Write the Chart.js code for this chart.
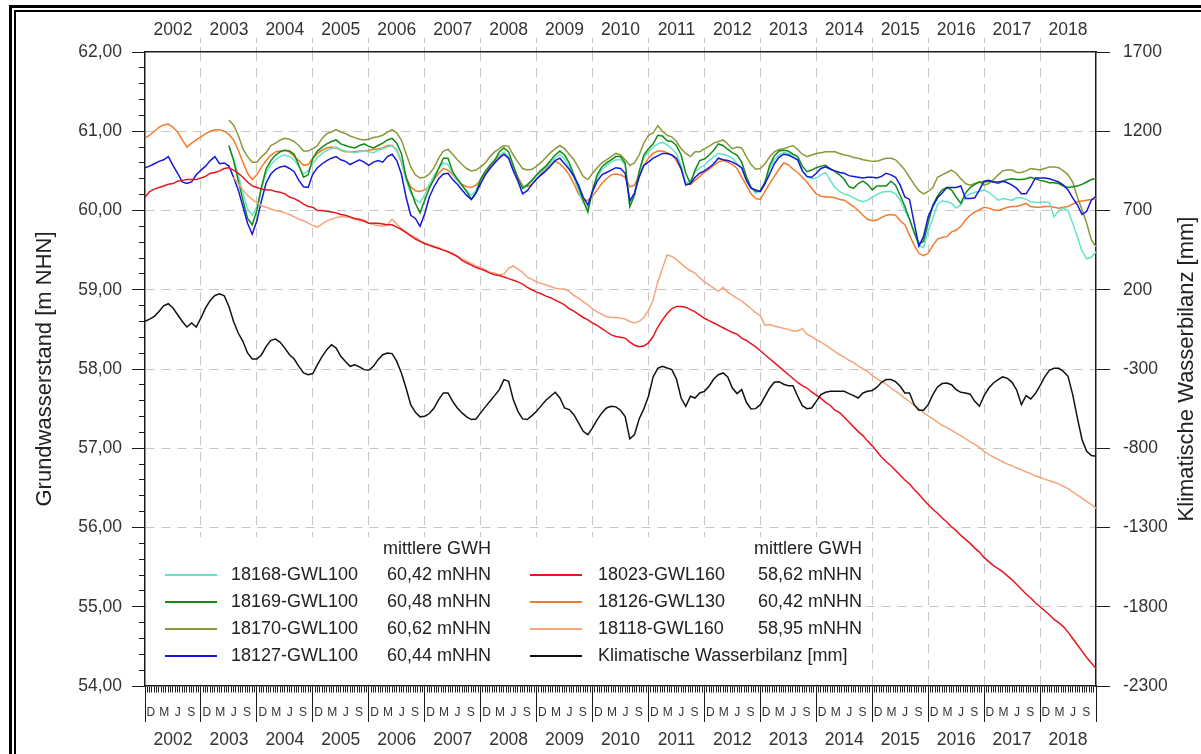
<!DOCTYPE html>
<html>
<head>
<meta charset="utf-8">
<script src="https://cdn.jsdelivr.net/npm/chart.js@4.4.1/dist/chart.umd.min.js"></script>
<style>
  html, body { margin: 0; padding: 0; background: #fff; }
  #wrap { position: relative; width: 1201px; height: 754px; overflow: hidden; background: #fff; }
  #myChart { position: absolute; left: 0; top: 0; }
  .frame { position: absolute; border-style: solid; border-color: #000; pointer-events: none; }
  #frameOuter { left: 9px; top: 5px; width: 1400px; height: 1000px; border-width: 3px; }
  #frameInner { left: 14px; top: 10px; width: 1400px; height: 1000px; border-width: 2px; }
</style>
</head>
<body>
<div id="wrap">
  <canvas id="myChart" width="1201" height="754"></canvas>
  <div class="frame" id="frameOuter"></div>
  <div class="frame" id="frameInner"></div>
</div>
<script>
// hydrological years (Nov - Oct), one value per month starting Nov 2001
const hydroYears = ['2002', '2003', '2004', '2005', '2006', '2007', '2008', '2009', '2010',
                    '2011', '2012', '2013', '2014', '2015', '2016', '2017', '2018'];
const monthLetters = ['D', 'M', 'J', 'S'];
const rightTickValues = [1700, 1200, 700, 200, -300, -800, -1300, -1800, -2300];
const legendHeader = 'mittlere GWH';
const leftTitle = 'Grundwasserstand [m NHN]';
const rightTitle = 'Klimatische Wasserbilanz [mm]';
const _ = null;

const gwl18168 = [
  _, _, _, _, _, _, _, _, _, _, _, _,
  _, _, _, _, _, _, 60.80, 60.66, 60.45, 60.22, 60.02, 59.94,
  60.05, 60.28, 60.48, 60.58, 60.64, 60.68, 60.70, 60.68, 60.64, 60.55, 60.46, 60.50,
  60.60, 60.67, 60.72, 60.76, 60.78, 60.80, 60.77, 60.75, 60.74, 60.73, 60.74, 60.75,
  60.74, 60.73, 60.76, 60.78, 60.80, 60.82, 60.77, 60.62, 60.38, 60.22, 60.14, 60.10,
  60.20, 60.33, 60.44, 60.53, 60.60, 60.58, 60.47, 60.38, 60.31, 60.25, 60.19, 60.25,
  60.40, 60.50, 60.57, 60.64, 60.70, 60.74, 60.68, 60.52, 60.40, 60.30, 60.33, 60.38,
  60.44, 60.49, 60.54, 60.60, 60.66, 60.71, 60.65, 60.55, 60.42, 60.25, 60.10, 60.03,
  60.22, 60.42, 60.51, 60.57, 60.61, 60.64, 60.64, 60.58, 60.05, 60.18, 60.47, 60.67,
  60.74, 60.80, 60.84, 60.86, 60.83, 60.78, 60.72, 60.57, 60.34, 60.38, 60.49, 60.54,
  60.57, 60.63, 60.68, 60.72, 60.71, 60.69, 60.66, 60.59, 60.53, 60.40, 60.30, 60.22,
  60.24, 60.34, 60.53, 60.64, 60.70, 60.73, 60.72, 60.68, 60.64, 60.51, 60.42, 60.40,
  60.41, 60.45, 60.48, 60.38, 60.29, 60.24, 60.21, 60.19, 60.16, 60.13, 60.11, 60.13,
  60.17, 60.20, 60.23, 60.24, 60.24, 60.21, 60.13, 60.00, 59.89, 59.73, 59.56, 59.53,
  59.75, 59.90, 60.08, 60.12, 60.11, 60.09, 60.03, 60.07, 60.17, 60.21, 60.23, 60.24,
  60.26, 60.23, 60.18, 60.13, 60.15, 60.14, 60.13, 60.16, 60.16, 60.14, 60.11, 60.10,
  60.10, 60.11, 60.10, 59.92, 60.00, 60.03, 60.00, 59.84, 59.67, 59.49, 59.39, 59.41,
  59.48
];

const gwl18169 = [
  _, _, _, _, _, _, _, _, _, _, _, _,
  _, _, _, _, _, _, 60.82, 60.63, 60.38, 60.13, 59.90, 59.82,
  60.00, 60.30, 60.53, 60.63, 60.70, 60.74, 60.76, 60.75, 60.71, 60.57, 60.42, 60.45,
  60.66, 60.75, 60.80, 60.84, 60.87, 60.89, 60.84, 60.82, 60.80, 60.79, 60.82, 60.84,
  60.81, 60.79, 60.82, 60.85, 60.89, 60.91, 60.85, 60.72, 60.42, 60.26, 60.09, 59.97,
  60.13, 60.28, 60.40, 60.53, 60.66, 60.66, 60.49, 60.40, 60.32, 60.24, 60.14, 60.22,
  60.40, 60.49, 60.57, 60.63, 60.74, 60.79, 60.74, 60.57, 60.40, 60.28, 60.32, 60.38,
  60.45, 60.51, 60.56, 60.63, 60.70, 60.75, 60.70, 60.60, 60.45, 60.30, 60.13, 59.98,
  60.26, 60.45, 60.55, 60.60, 60.64, 60.68, 60.68, 60.60, 60.05, 60.20, 60.49, 60.70,
  60.78, 60.84, 60.95, 60.94, 60.88, 60.87, 60.82, 60.70, 60.47, 60.34, 60.51, 60.63,
  60.65, 60.70, 60.76, 60.84, 60.82, 60.77, 60.73, 60.70, 60.61, 60.43, 60.29, 60.24,
  60.25, 60.36, 60.57, 60.69, 60.75, 60.76, 60.75, 60.71, 60.68, 60.56, 60.49, 60.51,
  60.54, 60.56, 60.57, 60.53, 60.49, 60.45, 60.39, 60.30, 60.28, 60.34, 60.37, 60.33,
  60.26, 60.31, 60.31, 60.31, 60.37, 60.32, 60.19, 60.05, 59.89, 59.72, 59.58, 59.61,
  59.84, 60.07, 60.18, 60.26, 60.29, 60.26, 60.17, 60.09, 60.22, 60.29, 60.33, 60.36,
  60.36, 60.37, 60.36, 60.34, 60.37, 60.39, 60.40, 60.39, 60.39, 60.40, 60.42, 60.40,
  60.38, 60.37, 60.35, 60.35, 60.34, 60.31, 60.29, 60.30, 60.31, 60.33, 60.36, 60.39,
  60.40
];

const gwl18170 = [
  _, _, _, _, _, _, _, _, _, _, _, _,
  _, _, _, _, _, _, 61.14, 61.08, 60.95, 60.78, 60.68, 60.61,
  60.61, 60.68, 60.73, 60.82, 60.85, 60.89, 60.91, 60.90, 60.87, 60.82, 60.75, 60.75,
  60.78, 60.82, 60.91, 60.97, 60.99, 61.02, 60.99, 60.97, 60.94, 60.92, 60.90, 60.89,
  60.90, 60.92, 60.93, 60.95, 60.99, 61.02, 60.98, 60.89, 60.72, 60.55, 60.45, 60.41,
  60.42, 60.46, 60.54, 60.66, 60.75, 60.77, 60.71, 60.64, 60.58, 60.53, 60.50, 60.51,
  60.55, 60.60, 60.68, 60.74, 60.78, 60.82, 60.81, 60.70, 60.61, 60.53, 60.51, 60.52,
  60.56, 60.61, 60.67, 60.73, 60.78, 60.82, 60.78, 60.71, 60.64, 60.54, 60.43, 60.39,
  60.47, 60.54, 60.60, 60.64, 60.68, 60.72, 60.70, 60.64, 60.57, 60.60, 60.70, 60.85,
  60.95, 60.98, 61.07, 61.00, 60.95, 60.93, 60.87, 60.78, 60.72, 60.68, 60.74, 60.74,
  60.78, 60.81, 60.85, 60.87, 60.89, 60.84, 60.78, 60.80, 60.79, 60.68, 60.58, 60.52,
  60.53, 60.59, 60.68, 60.74, 60.77, 60.78, 60.80, 60.82, 60.77, 60.71, 60.68, 60.70,
  60.72, 60.73, 60.74, 60.74, 60.74, 60.72, 60.70, 60.69, 60.67, 60.66, 60.64, 60.63,
  60.62, 60.62, 60.64, 60.66, 60.66, 60.64, 60.58, 60.51, 60.42, 60.33, 60.25, 60.21,
  60.24, 60.29, 60.42, 60.45, 60.48, 60.51, 60.47, 60.40, 60.34, 60.32, 60.34, 60.36,
  60.32, 60.34, 60.39, 60.45, 60.50, 60.51, 60.51, 60.48, 60.48, 60.50, 60.53, 60.52,
  60.51, 60.53, 60.55, 60.55, 60.54, 60.50, 60.45, 60.36, 60.17, 60.01, 59.84, 59.63,
  59.54
];

const gwl18127 = [
  60.54, 60.56, 60.59, 60.62, 60.64, 60.68, 60.57, 60.47, 60.36, 60.34, 60.36, 60.45,
  60.51, 60.56, 60.63, 60.68, 60.59, 60.60, 60.56, 60.42, 60.26, 60.05, 59.84, 59.70,
  59.87, 60.13, 60.35, 60.46, 60.52, 60.55, 60.56, 60.53, 60.49, 60.38, 60.30, 60.29,
  60.46, 60.54, 60.59, 60.63, 60.66, 60.68, 60.64, 60.62, 60.58, 60.61, 60.64, 60.61,
  60.57, 60.61, 60.63, 60.61, 60.68, 60.71, 60.63, 60.46, 60.17, 59.94, 59.90, 59.80,
  59.96, 60.17, 60.30, 60.40, 60.46, 60.47, 60.39, 60.33, 60.26, 60.19, 60.14, 60.22,
  60.34, 60.45, 60.53, 60.60, 60.66, 60.71, 60.66, 60.50, 60.37, 60.21, 60.25, 60.33,
  60.40, 60.45, 60.50, 60.56, 60.63, 60.66, 60.59, 60.52, 60.43, 60.32, 60.17, 60.07,
  60.24, 60.37, 60.45, 60.48, 60.51, 60.54, 60.53, 60.47, 60.12, 60.22, 60.42, 60.57,
  60.61, 60.66, 60.69, 60.72, 60.72, 60.70, 60.66, 60.53, 60.32, 60.34, 60.42, 60.47,
  60.50, 60.54, 60.59, 60.66, 60.64, 60.63, 60.61, 60.58, 60.54, 60.38, 60.28, 60.26,
  60.24, 60.34, 60.46, 60.59, 60.67, 60.71, 60.70, 60.67, 60.64, 60.50, 60.43, 60.42,
  60.47, 60.53, 60.55, 60.52, 60.50, 60.48, 60.47, 60.44, 60.43, 60.42, 60.41, 60.42,
  60.42, 60.41, 60.43, 60.47, 60.45, 60.42, 60.32, 60.17, 60.14, 59.84, 59.55, 59.67,
  59.92, 60.05, 60.16, 60.22, 60.29, 60.29, 60.29, 60.31, 60.15, 60.15, 60.16, 60.26,
  60.37, 60.38, 60.36, 60.36, 60.37, 60.35, 60.32, 60.28, 60.21, 60.21, 60.30, 60.41,
  60.41, 60.41, 60.40, 60.38, 60.36, 60.32, 60.26, 60.16, 60.07, 59.95, 59.99, 60.13,
  60.18
];

const gwl18023 = [
  60.17, 60.24, 60.27, 60.29, 60.31, 60.33, 60.34, 60.37, 60.38, 60.39, 60.39, 60.39,
  60.41, 60.43, 60.47, 60.48, 60.50, 60.53, 60.54, 60.51, 60.47, 60.42, 60.36, 60.31,
  60.29, 60.27, 60.26, 60.26, 60.24, 60.23, 60.21, 60.17, 60.15, 60.12, 60.08, 60.05,
  60.04, 60.00, 60.00, 59.99, 59.98, 59.97, 59.95, 59.94, 59.92, 59.90, 59.89, 59.87,
  59.84, 59.84, 59.84, 59.83, 59.82, 59.82, 59.79, 59.76, 59.72, 59.68, 59.64, 59.61,
  59.58, 59.56, 59.54, 59.52, 59.50, 59.48, 59.45, 59.42, 59.37, 59.34, 59.31, 59.28,
  59.26, 59.24, 59.21, 59.19, 59.18, 59.16, 59.14, 59.12, 59.10, 59.07, 59.03, 59.00,
  58.97, 58.95, 58.92, 58.90, 58.87, 58.84, 58.81, 58.76, 58.73, 58.69, 58.65, 58.62,
  58.58, 58.55, 58.51, 58.47, 58.43, 58.41, 58.40, 58.39, 58.34, 58.30, 58.28, 58.29,
  58.33, 58.41, 58.53, 58.62, 58.70, 58.76, 58.79, 58.79, 58.78, 58.75, 58.72, 58.68,
  58.64, 58.61, 58.58, 58.55, 58.52, 58.49, 58.46, 58.44, 58.39, 58.36, 58.32, 58.28,
  58.23, 58.18, 58.13, 58.08, 58.03, 57.98, 57.93, 57.88, 57.83, 57.79, 57.76, 57.71,
  57.67, 57.63, 57.58, 57.54, 57.48, 57.45, 57.39, 57.33, 57.27, 57.21, 57.16, 57.09,
  57.03, 56.96, 56.89, 56.83, 56.78, 56.72, 56.66, 56.60, 56.55, 56.48, 56.42, 56.35,
  56.29, 56.23, 56.18, 56.12, 56.07, 56.01, 55.96, 55.90, 55.85, 55.80, 55.74, 55.69,
  55.62, 55.57, 55.52, 55.48, 55.44, 55.39, 55.34, 55.28, 55.22, 55.16, 55.11, 55.05,
  55.00, 54.95, 54.90, 54.84, 54.80, 54.75, 54.68, 54.60, 54.52, 54.44, 54.36, 54.29,
  54.22
];

const gwl18126 = [
  60.91, 60.95, 61.00, 61.05, 61.08, 61.09, 61.05, 60.99, 60.89, 60.80, 60.85, 60.89,
  60.93, 60.97, 61.00, 61.02, 61.02, 61.00, 60.96, 60.89, 60.76, 60.61, 60.47, 60.39,
  60.45, 60.55, 60.63, 60.70, 60.74, 60.75, 60.76, 60.74, 60.68, 60.63, 60.57, 60.58,
  60.66, 60.72, 60.76, 60.79, 60.80, 60.79, 60.76, 60.74, 60.74, 60.74, 60.75, 60.75,
  60.76, 60.77, 60.78, 60.79, 60.82, 60.82, 60.76, 60.61, 60.42, 60.30, 60.25, 60.24,
  60.26, 60.30, 60.39, 60.47, 60.53, 60.51, 60.45, 60.38, 60.33, 60.30, 60.29, 60.32,
  60.38, 60.46, 60.55, 60.63, 60.68, 60.71, 60.66, 60.55, 60.42, 60.32, 60.30, 60.33,
  60.39, 60.47, 60.53, 60.58, 60.62, 60.59, 60.53, 60.45, 60.34, 60.21, 60.13, 60.13,
  60.18, 60.26, 60.34, 60.40, 60.45, 60.46, 60.45, 60.42, 60.30, 60.32, 60.45, 60.56,
  60.66, 60.72, 60.75, 60.75, 60.73, 60.70, 60.63, 60.52, 60.34, 60.33, 60.38, 60.43,
  60.48, 60.52, 60.57, 60.61, 60.63, 60.61, 60.58, 60.53, 60.42, 60.32, 60.21, 60.15,
  60.14, 60.24, 60.34, 60.43, 60.52, 60.60, 60.58, 60.52, 60.48, 60.42, 60.36, 60.28,
  60.21, 60.18, 60.17, 60.17, 60.16, 60.14, 60.13, 60.09, 60.05, 60.00, 59.94, 59.89,
  59.87, 59.88, 59.91, 59.94, 59.95, 59.94, 59.87, 59.82, 59.69, 59.56, 59.46, 59.43,
  59.46, 59.56, 59.64, 59.66, 59.67, 59.73, 59.75, 59.80, 59.88, 59.94, 59.98, 60.01,
  60.04, 60.03, 60.01, 60.00, 60.02, 60.04, 60.05, 60.05, 60.07, 60.09, 60.05, 60.04,
  60.04, 60.05, 60.05, 60.04, 60.03, 60.04, 60.05, 60.08, 60.11, 60.12, 60.13, 60.14,
  60.15
];

const gwl18118 = [
  _, _, _, _, _, _, _, _, _, _, _, _,
  _, _, _, _, _, _, _, 60.42, 60.34, 60.26, 60.19, 60.14,
  60.10, 60.06, 60.04, 60.02, 60.00, 59.99, 59.97, 59.95, 59.92, 59.89, 59.87, 59.84,
  59.81, 59.79, 59.83, 59.87, 59.89, 59.91, 59.92, 59.92, 59.91, 59.89, 59.87, 59.86,
  59.84, 59.82, 59.81, 59.80, 59.82, 59.89, 59.83, 59.77, 59.73, 59.69, 59.66, 59.62,
  59.59, 59.57, 59.55, 59.53, 59.50, 59.48, 59.46, 59.42, 59.39, 59.36, 59.33, 59.30,
  59.28, 59.25, 59.22, 59.21, 59.19, 59.20, 59.27, 59.30, 59.26, 59.22, 59.16, 59.13,
  59.10, 59.08, 59.06, 59.04, 59.02, 59.01, 59.01, 58.98, 58.93, 58.89, 58.85, 58.81,
  58.76, 58.72, 58.69, 58.66, 58.65, 58.65, 58.64, 58.63, 58.60, 58.58, 58.60, 58.65,
  58.74, 58.87, 59.10, 59.27, 59.44, 59.42, 59.38, 59.33, 59.28, 59.24, 59.21, 59.15,
  59.10, 59.06, 59.02, 58.98, 59.03, 58.97, 58.93, 58.89, 58.86, 58.81, 58.76, 58.71,
  58.67, 58.55, 58.56, 58.54, 58.53, 58.51, 58.50, 58.48, 58.48, 58.51, 58.44, 58.41,
  58.37, 58.34, 58.30, 58.26, 58.22, 58.18, 58.15, 58.11, 58.08, 58.04, 58.00, 57.97,
  57.92, 57.88, 57.84, 57.81, 57.76, 57.72, 57.68, 57.63, 57.59, 57.54, 57.50, 57.45,
  57.41, 57.37, 57.33, 57.29, 57.26, 57.23, 57.19, 57.16, 57.12, 57.08, 57.05, 57.01,
  56.96, 56.92, 56.89, 56.86, 56.83, 56.80, 56.78, 56.75, 56.73, 56.70, 56.68, 56.65,
  56.63, 56.61, 56.59, 56.57, 56.55, 56.52, 56.49, 56.45, 56.41, 56.37, 56.33, 56.29,
  56.24
];

// Klimatische Wasserbilanz [mm], right axis
const kwb = [
  0, 15, 32, 63, 99, 112, 85, 42, 0, -35, -10, -35,
  22, 85, 133, 164, 175, 162, 95, 0, -73, -125, -199, -237,
  -237, -210, -157, -119, -111, -132, -168, -210, -237, -283, -325, -336,
  -329, -273, -220, -178, -147, -168, -220, -252, -283, -273, -287, -304,
  -308, -283, -241, -210, -199, -203, -252, -325, -420, -525, -573, -602,
  -598, -581, -546, -493, -451, -451, -504, -546, -577, -602, -619, -615,
  -577, -539, -504, -468, -430, -367, -378, -493, -567, -615, -619, -594,
  -567, -531, -497, -472, -447, -483, -546, -556, -588, -640, -693, -714,
  -672, -619, -577, -546, -535, -539, -560, -600, -741, -714, -615, -552,
  -472, -350, -296, -283, -294, -304, -363, -483, -535, -472, -483, -451,
  -441, -409, -363, -336, -325, -350, -420, -455, -430, -510, -552, -550,
  -525, -472, -420, -384, -380, -396, -405, -405, -472, -531, -550, -546,
  -504, -462, -447, -441, -441, -441, -441, -455, -468, -483, -451, -441,
  -436, -415, -384, -367, -367, -380, -409, -451, -451, -525, -560, -560,
  -525, -462, -413, -392, -388, -399, -430, -447, -451, -459, -504, -535,
  -468, -420, -388, -367, -350, -359, -384, -434, -525, -468, -489, -455,
  -405, -350, -308, -296, -296, -315, -346, -462, -609, -745, -819, -846,
  -850
];

const series = [
  {label: '18168-GWL100', mean: '60,42 mNHN', values: gwl18168, color: '#62e4c8', axis: 'y', order: 6},
  {label: '18169-GWL100', mean: '60,48 mNHN', values: gwl18169, color: '#138a16', axis: 'y', order: 5},
  {label: '18170-GWL100', mean: '60,62 mNHN', values: gwl18170, color: '#8b9838', axis: 'y', order: 7},
  {label: '18127-GWL100', mean: '60,44 mNHN', values: gwl18127, color: '#1616dc', axis: 'y', order: 4},
  {label: '18023-GWL160', mean: '58,62 mNHN', values: gwl18023, color: '#e4161e', axis: 'y', order: 2},
  {label: '18126-GWL130', mean: '60,42 mNHN', values: gwl18126, color: '#f27a2a', axis: 'y', order: 8},
  {label: '18118-GWL160', mean: '58,95 mNHN', values: gwl18118, color: '#f5a57a', axis: 'y', order: 3},
  {label: 'Klimatische Wasserbilanz [mm]', mean: '', values: kwb, color: '#111111', axis: 'y2', order: 1}
];

const fontFamily = '"Liberation Sans", Arial, Helvetica, sans-serif';
Chart.defaults.font.family = fontFamily;
Chart.defaults.color = '#222';

const clear = 'rgba(0,0,0,0)';
const gridGrey = '#c6c6c6';
const axisInk = '#1c1c1c';
const lastMonth = hydroYears.length * 12;

const isWhole = v => Math.abs(v - Math.round(v)) < 1e-6;

// bottom axis: half-month ticks, long ticks at year change, letters D M J S
function bottomTicks() {
  const letterAt = [1.25, 4.15, 7.05, 9.9];
  const t = [];
  for (let h = 0; h <= lastMonth * 2; h++) {
    t.push({value: h / 2, kind: h % 24 === 0 ? 'year' : 'minor'});
  }
  hydroYears.forEach((y, k) => {
    monthLetters.forEach((l, j) => t.push({value: 12 * k + letterAt[j], kind: 'label', text: l}));
  });
  return t.sort((a, b) => a.value - b.value);
}

function yearTicks(withEdges) {
  const t = [];
  if (withEdges) {
    for (let k = 0; k <= hydroYears.length; k++) t.push({value: 12 * k, kind: 'year'});
  }
  hydroYears.forEach((y, k) => t.push({value: 12 * k + 6, kind: 'label', text: y}));
  return t.sort((a, b) => a.value - b.value);
}

const overlay = {
  id: 'overlay',
  afterDraw(chart) {
    const {ctx, chartArea: a} = chart;
    ctx.save();
    // legend
    ctx.fillStyle = '#fff';
    ctx.fillRect(a.left + 2, a.bottom - 149, 717, 147);
    ctx.font = '18px ' + fontFamily;
    ctx.textBaseline = 'middle';
    const cols = [
      {line: a.left + 20, label: a.left + 86, right: a.left + 346},
      {line: a.left + 385, label: a.left + 453, right: a.left + 717}
    ];
    cols.forEach((col, ci) => {
      ctx.fillStyle = '#222';
      ctx.textAlign = 'right';
      ctx.fillText(legendHeader, col.right, a.bottom - 137);
      for (let r = 0; r < 4; r++) {
        const s = series[ci * 4 + r];
        const y = a.bottom - 111 + r * 27;
        ctx.strokeStyle = s.color;
        ctx.lineWidth = 2;
        ctx.beginPath();
        ctx.moveTo(col.line, y);
        ctx.lineTo(col.line + 52, y);
        ctx.stroke();
        ctx.textAlign = 'left';
        ctx.fillText(s.label, col.label, y);
        if (s.mean) {
          ctx.textAlign = 'right';
          ctx.fillText(s.mean, col.right, y);
        }
      }
    });
    // right axis title, reads bottom to top
    ctx.translate(chart.width - 14, (a.top + a.bottom) / 2);
    ctx.rotate(-Math.PI / 2);
    ctx.textAlign = 'center';
    ctx.fillStyle = '#222';
    ctx.font = '22px ' + fontFamily;
    ctx.fillText(rightTitle, 0, 0);
    ctx.restore();
  }
};

const ctx = document.getElementById('myChart').getContext('2d');

const myChart = new Chart(ctx, {
  type: 'line',
  data: {
    datasets: series.map(s => ({
      label: s.label,
      data: s.values.map((v, i) => ({x: i, y: v})),
      borderColor: s.color,
      backgroundColor: s.color,
      borderWidth: 1.5,
      pointRadius: 0,
      tension: 0,
      fill: false,
      xAxisID: 'x',
      yAxisID: s.axis,
      order: s.order
    }))
  },
  options: {
    responsive: false,
    animation: false,
    layout: {padding: 0},
    plugins: {legend: {display: false}, tooltip: {enabled: false}},
    scales: {
      x: {
        type: 'linear', position: 'bottom', min: 0, max: lastMonth, weight: 0,
        afterBuildTicks: s => { s.ticks = bottomTicks(); },
        afterFit: s => { s.height = 33; },
        grid: {
          color: c => (c.tick && c.tick.kind === 'year' && c.tick.value > 0 && c.tick.value < lastMonth) ? gridGrey : clear,
          lineWidth: 1,
          tickLength: 36,
          tickWidth: 1,
          tickColor: c => (c.tick && c.tick.kind === 'label') ? clear : axisInk,
          tickBorderDash: c => (c.tick && c.tick.kind === 'year') ? [] : [6, 100]
        },
        border: {display: true, color: axisInk, width: 1.5, dash: [9, 7]},
        ticks: {
          autoSkip: false, maxRotation: 0, padding: -17, color: '#333',
          font: {size: 12},
          callback: (v, i, t) => t[i].text || ''
        }
      },
      xYears: {
        type: 'linear', position: 'bottom', min: 0, max: lastMonth, weight: 1,
        afterBuildTicks: s => { s.ticks = yearTicks(false); },
        afterFit: s => { s.height = 35; },
        grid: {display: false, drawTicks: false},
        border: {display: false},
        ticks: {
          autoSkip: false, maxRotation: 0, padding: 11, color: '#333',
          font: {size: 17.5},
          callback: (v, i, t) => t[i].text || ''
        }
      },
      xTop: {
        type: 'linear', position: 'top', min: 0, max: lastMonth,
        afterBuildTicks: s => { s.ticks = yearTicks(true); },
        afterFit: s => { s.height = 52; },
        grid: {
          drawOnChartArea: false,
          tickLength: 14,
          tickWidth: 1,
          tickColor: c => (c.tick && c.tick.kind === 'year' && c.tick.value > 0 && c.tick.value < lastMonth) ? gridGrey : clear,
          tickBorderDash: [5, 4]
        },
        border: {display: true, color: axisInk, width: 1.5},
        ticks: {
          autoSkip: false, maxRotation: 0, padding: -3, color: '#333',
          font: {size: 17.5},
          callback: (v, i, t) => t[i].text || ''
        }
      },
      y: {
        type: 'linear', position: 'left', min: 54, max: 62,
        afterBuildTicks: s => {
          const t = [];
          for (let i = 0; i <= 40; i++) t.push({value: Math.round((54 + i * 0.2) * 10) / 10});
          s.ticks = t;
        },
        afterFit: s => { s.width = 145; },
        grid: {
          color: c => (c.tick && isWhole(c.tick.value) && c.tick.value > 54 && c.tick.value < 62) ? gridGrey : clear,
          lineWidth: 1,
          tickLength: 13,
          tickWidth: 1,
          tickColor: axisInk,
          tickBorderDash: c => (c.tick && isWhole(c.tick.value)) ? [] : [0, 7, 6, 100]
        },
        border: {display: true, color: axisInk, width: 1.5, dash: [9, 7]},
        ticks: {
          autoSkip: false, padding: 10, color: '#333',
          font: {size: 17.5},
          callback: v => isWhole(v) ? v.toFixed(2).replace('.', ',') : ''
        },
        title: {
          display: true, text: leftTitle, color: '#222',
          font: {size: 22}, padding: {top: 32, bottom: 0}
        }
      },
      y2: {
        type: 'linear', position: 'right', min: -2300, max: 1700,
        afterBuildTicks: s => { s.ticks = rightTickValues.map(v => ({value: v})).reverse(); },
        afterFit: s => { s.width = 105; },
        grid: {drawOnChartArea: false, tickLength: 14, tickWidth: 1, tickColor: axisInk},
        border: {display: true, color: axisInk, width: 1.5},
        ticks: {
          autoSkip: false, padding: 13, color: '#333',
          font: {size: 17.5},
          callback: v => String(v)
        }
      }
    }
  },
  plugins: [overlay]
});
</script>
</body>
</html>
